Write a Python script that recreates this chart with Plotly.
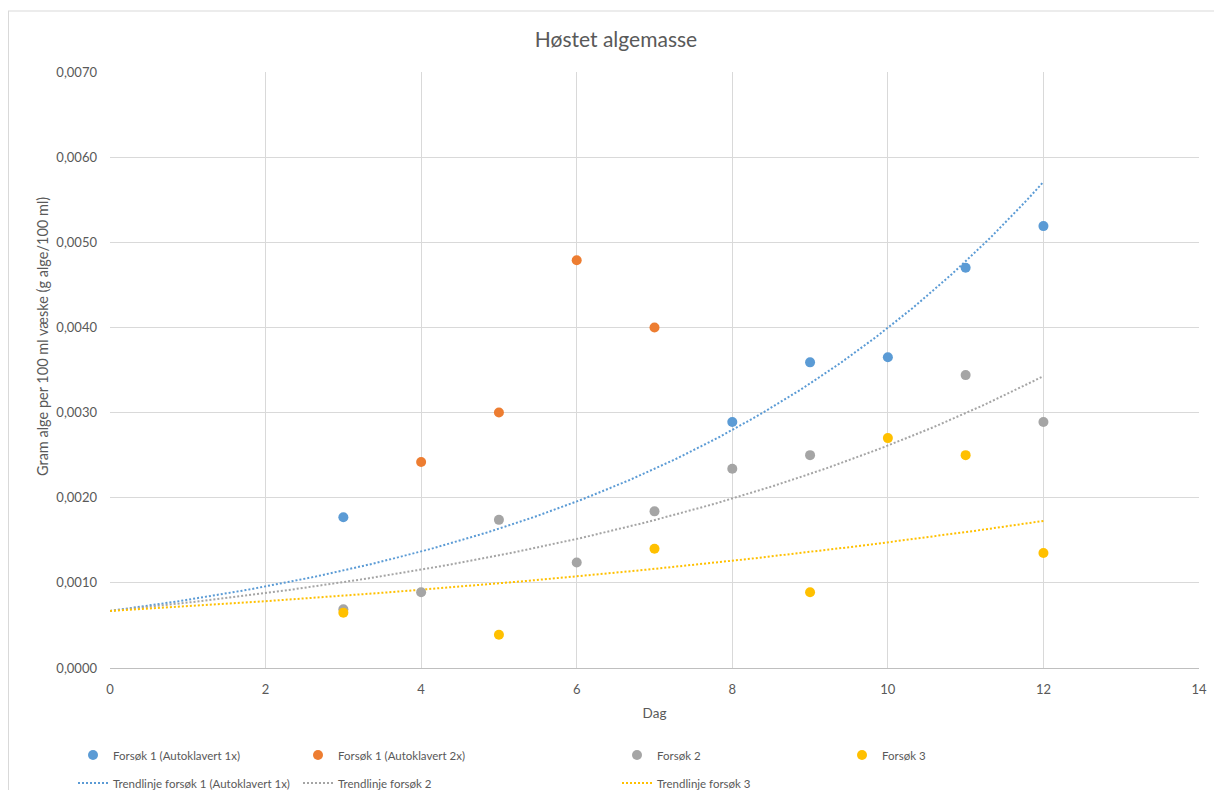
import numpy as np
import plotly.graph_objects as go

# Data
days_f1_1x = [3, 8, 9, 10, 11, 12]
vals_f1_1x = [0.00177, 0.00289, 0.00359, 0.00365, 0.00470, 0.00519]

days_f1_2x = [4, 5, 6, 7]
vals_f1_2x = [0.00242, 0.00300, 0.00479, 0.00400]

days_f2 = [3, 4, 5, 6, 7, 8, 9, 11, 12]
vals_f2 = [0.00069, 0.00089, 0.00174, 0.00124, 0.00184, 0.00234, 0.00250, 0.00344, 0.00289]

days_f3 = [3, 5, 7, 9, 10, 11, 12]
vals_f3 = [0.00065, 0.00039, 0.00140, 0.00089, 0.00270, 0.00250, 0.00135]

# Exponential trendlines with set intercept (as in Excel)
trend_intercept = 0.00067
trend_end_day = 12

names = ["Forsøk 1 (Autoklavert 1x)", "Forsøk 1 (Autoklavert 2x)", "Forsøk 2", "Forsøk 3"]
trend_names = ["Trendlinje forsøk 1 (Autoklavert 1x)", "Trendlinje forsøk 2", "Trendlinje forsøk 3"]

BLUE = "#5B9BD5"
ORANGE = "#ED7D31"
GRAY = "#A5A5A5"
YELLOW = "#FFC000"
TXT = "#595959"
FONT = "Lato, 'Open Sans', sans-serif"

W, H = 1206, 782          # figure size (page body has 8px margin)
L, R, T, B = 102, 15, 64, 122
PW, PH = W - L - R, H - T - B


def exp_fit_fixed_intercept(x, y, a):
    x = np.asarray(x, float)
    ly = np.log(np.asarray(y, float)) - np.log(a)
    return float(np.sum(x * ly) / np.sum(x * x))


def fx(px):   # figure pixel x -> paper
    return (px - L) / PW


def fy(py):   # figure pixel y -> paper
    return (H - B - py) / PH


xs = np.linspace(0, trend_end_day, 200)

fig = go.Figure()

series = [
    (days_f1_1x, vals_f1_1x, names[0], BLUE, "legend"),
    (days_f1_2x, vals_f1_2x, names[1], ORANGE, "legend2"),
    (days_f2, vals_f2, names[2], GRAY, "legend3"),
    (days_f3, vals_f3, names[3], YELLOW, "legend4"),
]
trends = [
    (days_f1_1x, vals_f1_1x, trend_names[0], BLUE, "legend5"),
    (days_f2, vals_f2, trend_names[1], GRAY, "legend6"),
    (days_f3, vals_f3, trend_names[2], YELLOW, "legend7"),
]

for x, y, n, c, lg in trends:
    b = exp_fit_fixed_intercept(x, y, trend_intercept)
    fig.add_trace(go.Scatter(
        x=xs, y=trend_intercept * np.exp(b * xs), mode="lines", name=n,
        line=dict(color=c, width=2, dash="2px,2px"), legend=lg,
        hoverinfo="skip",
    ))

for x, y, n, c, lg in series:
    fig.add_trace(go.Scatter(
        x=x, y=y, mode="markers", name=n,
        marker=dict(color=c, size=10), legend=lg,
    ))

leg_common = dict(orientation="h", xref="paper", yref="paper", xanchor="left", yanchor="middle",
                  bgcolor="rgba(0,0,0,0)", font=dict(family=FONT, size=11.5, color=TXT),
                  itemclick=False, itemdoubleclick=False)

col_x = [65, 290, 609, 834]
row_y = [747, 775]   # row centres in figure pixels

fig.update_layout(
    legend=dict(x=fx(col_x[0]), y=fy(row_y[0]), **leg_common),
    legend2=dict(x=fx(col_x[1]), y=fy(row_y[0]), **leg_common),
    legend3=dict(x=fx(col_x[2]), y=fy(row_y[0]), **leg_common),
    legend4=dict(x=fx(col_x[3]), y=fy(row_y[0]), **leg_common),
    legend5=dict(x=fx(col_x[0]), y=fy(row_y[1]), **leg_common),
    legend6=dict(x=fx(col_x[1]), y=fy(row_y[1]), **leg_common),
    legend7=dict(x=fx(col_x[2]), y=fy(row_y[1]), **leg_common),
)

fig.update_layout(
    width=W, height=H,
    margin=dict(l=L, r=R, t=T, b=B, autoexpand=False),
    paper_bgcolor="white", plot_bgcolor="white",
    separators=", ",
    font=dict(family=FONT, size=12, color=TXT),
    title=dict(text="Høstet algemasse", x=608 / W, xanchor="center", xref="container",
               y=1 - 32 / H, yanchor="middle", yref="container",
               font=dict(family=FONT, size=21, color=TXT)),
    showlegend=True,
    xaxis=dict(range=[0, 14], dtick=2, tick0=0, showgrid=True, gridcolor="#D9D9D9",
               gridwidth=1, zeroline=False, showline=True, linecolor="#BFBFBF",
               ticks="", ticklabelstandoff=9,
               tickfont=dict(family=FONT, size=13, color=TXT),
               title=dict(text="Dag", standoff=12, font=dict(family=FONT, size=13.5, color=TXT))),
    yaxis=dict(range=[0, 0.007], dtick=0.001, tick0=0, tickformat=".4f", showgrid=True,
               gridcolor="#D9D9D9", gridwidth=1, zeroline=False, showline=False,
               ticks="", ticklabelstandoff=12,
               tickfont=dict(family=FONT, size=13, color=TXT)),
    annotations=[dict(text="Gram alge per 100 ml væske (g alge/100 ml)", textangle=-90,
                      xref="paper", yref="paper", x=fx(34), y=fy(329),
                      xanchor="center", yanchor="middle", showarrow=False,
                      font=dict(family=FONT, size=14.5, color=TXT))],
    shapes=[
        dict(type="line", xref="paper", yref="paper", x0=fx(0.5), x1=fx(0.5), y0=fy(H), y1=fy(3),
             line=dict(color="#D9D9D9", width=1), layer="below"),
        dict(type="line", xref="paper", yref="paper", x0=fx(0), x1=fx(W), y0=fy(3), y1=fy(3),
             line=dict(color="#D9D9D9", width=1), layer="below"),
    ],
)

fig.write_html("out.html")
